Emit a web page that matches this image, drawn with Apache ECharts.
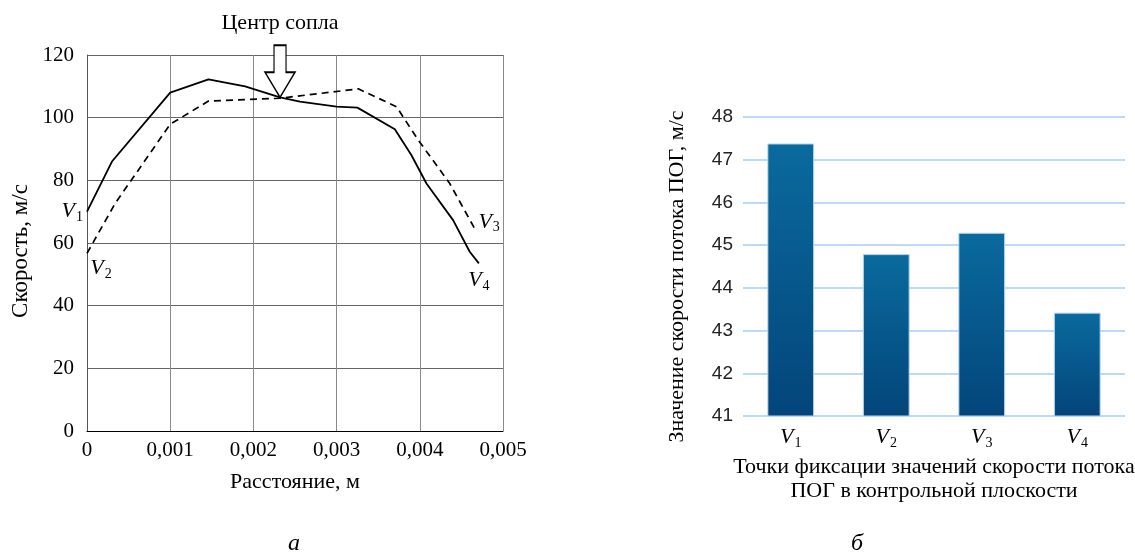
<!DOCTYPE html>
<html>
<head>
<meta charset="utf-8">
<script src="https://cdn.jsdelivr.net/npm/echarts@6/dist/echarts.min.js"></script>
<style>
  html, body { margin: 0; padding: 0; background: #fff; }
  #main { width: 1135px; height: 555px; }
</style>
</head>
<body>
<div id="main"></div>
<script>
// профиль скорости (а): расстояние, м -> скорость, м/с
var solidX = [0, 0.0003, 0.001, 0.00146, 0.0019, 0.00232, 0.00256, 0.003, 0.00325, 0.0037, 0.0039, 0.00408, 0.0044, 0.0046, 0.00471];
var solidY = [70, 86, 108, 112.2, 110, 106.5, 105.1, 103.5, 103.2, 96.3, 88, 79, 67.3, 57.2, 53.5];
var dashX = [0, 0.00034, 0.001, 0.00146, 0.00232, 0.00326, 0.00372, 0.00398, 0.00436, 0.00468];
var dashY = [56.7, 72.7, 97.9, 105.3, 106.2, 109.2, 103.5, 92.9, 79, 63.6];
var nozzleCenter = [0.00232, 106.5];

// значения скорости в точках фиксации (б)
var points = ['V1', 'V2', 'V3', 'V4'];
var pointValues = [47.38, 44.79, 45.29, 43.42];

var serif = 'Liberation Serif';

var rich = {
  v: { fontFamily: serif, fontStyle: 'italic', fontSize: 22, color: '#000' },
  s: { fontFamily: serif, fontSize: 14, color: '#000', padding: [12, 0, 0, 1] }
};
function vLabel(name) {
  return '{v|V}{s|' + name.slice(1) + '}';
}

function pairs(xs, ys, first, last) {
  return xs.map(function (x, i) {
    var item = { value: [x, ys[i]] };
    if (i === 0 && first) item.label = first;
    if (i === xs.length - 1 && last) item.label = last;
    return item;
  });
}

var myChart = echarts.init(document.getElementById('main'));

var option = {
  animation: false,
  backgroundColor: '#fff',
  title: [
    { text: 'а', left: 289, top: 527, textAlign: 'center',
      textStyle: { fontFamily: serif, fontStyle: 'italic', fontWeight: 'normal', fontSize: 24, color: '#000' } },
    { text: 'б', left: 852, top: 527, textAlign: 'center',
      textStyle: { fontFamily: serif, fontStyle: 'italic', fontWeight: 'normal', fontSize: 24, color: '#000' } }
  ],
  grid: [
    { left: 87, top: 55, width: 416, height: 376, outerBoundsMode: 'none' },
    { left: 743, top: 117, width: 382, height: 299, outerBoundsMode: 'none' }
  ],
  xAxis: [
    {
      gridIndex: 0, type: 'value', min: 0, max: 0.005, interval: 0.001,
      name: 'Расстояние, м', nameLocation: 'middle', nameGap: 40,
      nameTextStyle: { fontFamily: serif, fontSize: 22, color: '#000' },
      axisLine: { lineStyle: { color: '#000', width: 1 } },
      axisTick: { show: false },
      axisLabel: {
        margin: 9, fontFamily: serif, fontSize: 21, color: '#000',
        formatter: function (v) { return v === 0 ? '0' : String(+v.toFixed(3)).replace('.', ','); }
      },
      splitLine: { show: true, lineStyle: { color: '#8a8a8a', width: 1 } }
    },
    {
      gridIndex: 1, type: 'category', data: points,
      name: 'Точки фиксации значений скорости потока\nПОГ в контрольной плоскости',
      nameLocation: 'middle', nameGap: 37,
      nameTextStyle: { fontFamily: serif, fontSize: 22, color: '#000', lineHeight: 24 },
      axisLine: { show: false },
      axisTick: { show: false },
      axisLabel: {
        margin: 8,
        formatter: function (v) { return vLabel(v); },
        rich: rich
      }
    }
  ],
  yAxis: [
    {
      gridIndex: 0, type: 'value', min: 0, max: 120, interval: 20,
      name: 'Скорость, м/с', nameLocation: 'middle', nameGap: 55,
      nameTextStyle: { fontFamily: serif, fontSize: 23, color: '#000', padding: [0, 16, 0, 0] },
      axisLine: { show: true, lineStyle: { color: '#555', width: 1 } },
      axisTick: { show: false },
      axisLabel: { margin: 13, fontFamily: serif, fontSize: 21, color: '#000' },
      splitLine: { show: true, lineStyle: { color: '#666', width: 1 } }
    },
    {
      gridIndex: 1, type: 'value', min: 41, max: 48, interval: 1,
      name: 'Значение скорости потока ПОГ, м/с', nameLocation: 'middle', nameGap: 55,
      nameTextStyle: { fontFamily: serif, fontSize: 22, color: '#000', padding: [0, 20, 0, 0] },
      axisLine: { show: false },
      axisTick: { show: false },
      axisLabel: { margin: 10, fontFamily: 'Liberation Sans', fontSize: 19, color: '#222' },
      splitLine: { show: true, lineStyle: { color: '#a9cdef', width: 1.5 } }
    }
  ],
  series: [
    {
      type: 'line', xAxisIndex: 0, yAxisIndex: 0,
      symbol: 'circle', symbolSize: 0, showSymbol: true, z: 3,
      lineStyle: { color: '#000', width: 1.8 },
      label: { show: false },
      data: pairs(solidX, solidY,
        { show: true, position: 'left', distance: 4, offset: [0, 0], formatter: vLabel('V1'), rich: rich },
        { show: true, position: 'bottom', distance: 4, offset: [0, 0], formatter: vLabel('V4'), rich: rich }),
      markPoint: {
        silent: true,
        symbol: 'path://M9,0 L21,0 L21,27 L30,27 L15,52 L0,27 L9,27 Z',
        symbolSize: [30, 52],
        symbolOffset: [0, '-50%'],
        itemStyle: { color: '#fff', borderColor: '#000', borderWidth: 1.5 },
        label: {
          show: true, position: 'top', distance: 10,
          formatter: 'Центр сопла',
          fontFamily: serif, fontSize: 22, color: '#000'
        },
        data: [{ coord: nozzleCenter }]
      }
    },
    {
      type: 'line', xAxisIndex: 0, yAxisIndex: 0,
      symbol: 'circle', symbolSize: 0, showSymbol: true, z: 2,
      lineStyle: { color: '#000', width: 1.7, type: [7, 5] },
      label: { show: false },
      data: pairs(dashX, dashY,
        { show: true, position: 'bottom', distance: 2, offset: [14, 0], formatter: vLabel('V2'), rich: rich },
        { show: true, position: 'right', distance: 2, offset: [0, -10], formatter: vLabel('V3'), rich: rich })
    },
    {
      type: 'bar', xAxisIndex: 1, yAxisIndex: 1, barWidth: '49%',
      itemStyle: {
        color: new echarts.graphic.LinearGradient(0, 0, 0, 1, [
          { offset: 0, color: '#0a6a9e' },
          { offset: 1, color: '#03457a' }
        ]),
        borderColor: '#b9d6ee', borderWidth: 1
      },
      data: pointValues
    }
  ]
};

myChart.setOption(option);
</script>
</body>
</html>
